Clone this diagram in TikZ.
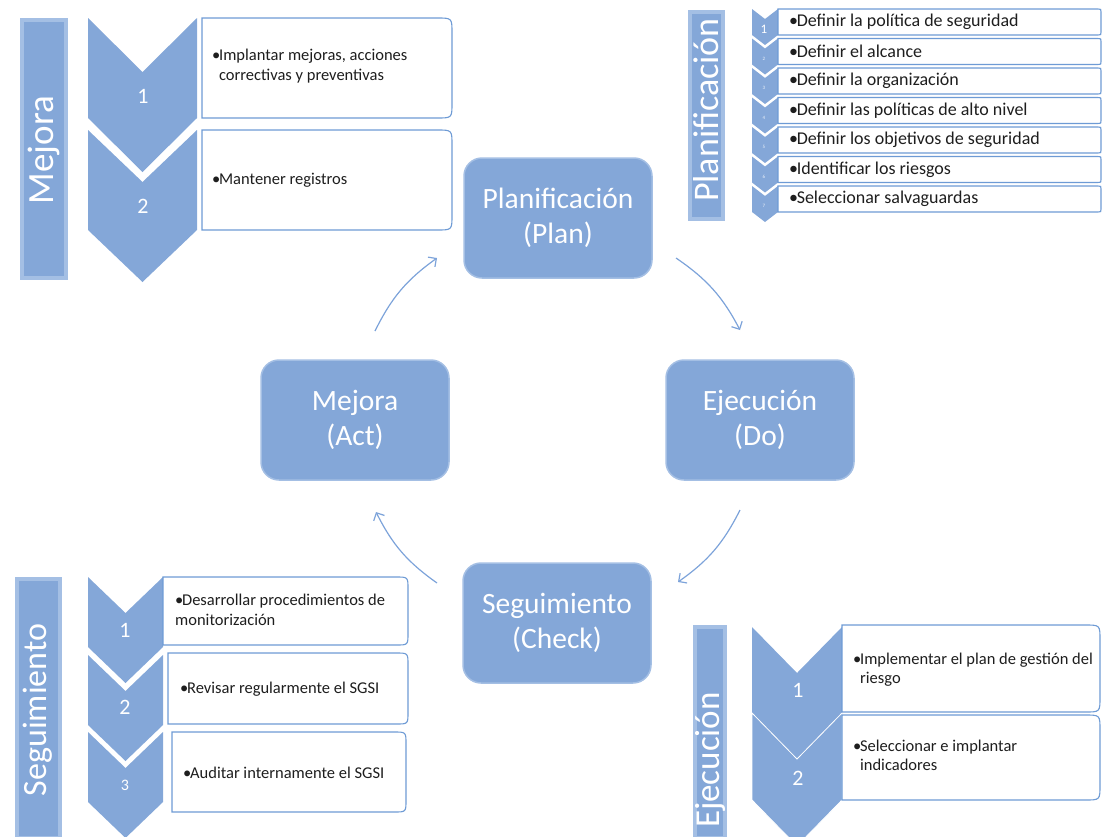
\documentclass[tikz,border=0pt]{standalone}
\usepackage{fontspec}
\setmainfont{Carlito}
\usetikzlibrary{arrows.meta}
\definecolor{cblue}{HTML}{84A7D8}
\definecolor{cbluelight}{HTML}{A4BFE4}
\definecolor{cborder}{HTML}{6E9BD5}
\definecolor{carrow}{HTML}{7DA3DA}
\definecolor{ctext}{HTML}{1E1E1E}
\newcommand\mychev[5]{%
  \fill[chevst] (#1,#2) -- ({#1+#3/2},{#2+#5}) -- ({#1+#3},#2) -- ({#1+#3},{#2+#4}) -- ({#1+#3/2},{#2+#4+#5}) -- (#1,{#2+#4}) -- cycle;}
\newcommand\mybox[5]{%
  \draw[boxst] (#1,#2) -- ({#3-#5},#2) .. controls (#3,#2) .. (#3,{#2+#5}) -- (#3,{#4-#5}) .. controls (#3,#4) .. ({#3-#5},#4) -- (#1,#4) -- cycle;}
\newcommand\mybar[4]{%
  \fill[cbluelight] (#1,#2) rectangle (#3,#4);
  \fill[cblue] ({#1+4},{#2+4}) rectangle ({#3-4},{#4-4});}
\newcommand\bul{\makebox[0.42em][l]{•}}
\newcommand\cont{\hspace*{0.42em}}
\begin{document}
\begin{tikzpicture}[x=1pt,y=-1pt,
  chevst/.style={fill=cblue},
  boxst/.style={draw=cborder,line width=1.1pt,fill=white},
  mainbox/.style={rectangle,rounded corners=18pt,fill=cblue,draw=cbluelight,line width=1.5pt,
    minimum width=188pt,minimum height=120pt,text=white,align=center,
    font=\fontsize{29.5}{35}\selectfont},
  bartext/.style={rotate=90,text=white},
  numtext/.style={text=white,font=\fontsize{22}{22}\selectfont},
  itemtext/.style={anchor=west,align=left,text=ctext,inner sep=0pt,font=\fontsize{16.5}{19.5}\selectfont},
  listtext/.style={anchor=west,align=left,text=ctext,inner sep=0pt,font=\fontsize{18}{18}\selectfont},
  cyc/.style={draw=carrow,line width=1.2pt,-{Straight Barb[length=6pt,width=12pt]}}]
\useasboundingbox (0,0) rectangle (1102,836);

% ---- central cycle ----
\node[mainbox] (plan) at (558,218) {Planificación\\(Plan)};
\node[mainbox] (act) at (355,420) {Mejora\\(Act)};
\node[mainbox] (do) at (760,420) {Ejecución\\(Do)};
\node[mainbox] (check) at (557,623) {Seguimiento\\(Check)};

\coordinate (a1s) at (676,258); \coordinate (a1e) at (740,330);
\coordinate (a2s) at (740,510); \coordinate (a2e) at (678,582);
\coordinate (a3s) at (437,583); \coordinate (a3e) at (376,512);
\coordinate (a4s) at (375,331); \coordinate (a4e) at (437,258);
\draw[cyc] (a1s) to[bend left=14] (a1e);
\draw[cyc] (a2s) to[bend left=14] (a2e);
\draw[cyc] (a3s) to[bend left=14] (a3e);
\draw[cyc] (a4s) to[bend left=14] (a4e);

% ---- Mejora panel ----
\mybar{20}{18}{68}{280}
\node[bartext,font=\fontsize{37}{37}\selectfont] (mejbar) at (44,150) {Mejora};
\mychev{88}{18}{109}{100}{54}
\mychev{88}{130}{109}{100}{52}
\node[numtext] (mn1) at (143,96) {1};
\node[numtext] (mn2) at (143,206) {2};
\mybox{202}{18}{452}{118}{15}
\mybox{202}{130}{452}{230}{15}
\node[itemtext] (mt1) at (212,66) {\bul Implantar mejoras, acciones\\\cont correctivas y preventivas};
\node[itemtext] (mt2) at (212,180) {\bul Mantener registros};

% ---- Planificación panel ----
\mybar{688}{10}{725}{221}
\node[bartext,font=\fontsize{36}{36}\selectfont] (planbar) at (706,110) {Planificación};
\foreach \i/\t in {1/Definir la política de seguridad,2/Definir el alcance,3/Definir la organización,4/Definir las políticas de alto nivel,5/Definir los objetivos de seguridad,6/Identificar los riesgos,7/Seleccionar salvaguardas}{
  \pgfmathsetmacro{\ty}{9+29.5*(\i-1)}
  \mychev{752}{\ty}{26}{26}{10}
  \mybox{778}{\ty}{1101}{\ty+26}{3}
  \node[listtext] (pl\i) at (789,\ty+13) {\bul\t};
}
\node[text=white,font=\fontsize{13}{13}\selectfont] (pn1) at (764,29) {1};
\foreach \i in {2,...,7}{
  \pgfmathsetmacro{\ny}{9+29.5*(\i-1)+20}
  \node[text=white!85!cblue,font=\fontsize{5}{5}\selectfont] (pn\i) at (764,\ny) {\i};
}

% ---- Seguimiento panel ----
\mybar{15}{577}{62}{840}
\node[bartext,font=\fontsize{34}{34}\selectfont] (segbar) at (38,710) {Seguimiento};
\mychev{88}{577}{75}{70}{36}
\mychev{88}{655}{75}{70}{36}
\mychev{88}{732}{75}{70}{36}
\node[numtext] (sn1) at (125,630) {1};
\node[numtext] (sn2) at (125,707) {2};
\node[numtext,font=\fontsize{16}{16}\selectfont] (sn3) at (125,785) {3};
\mybox{163}{577}{408}{645}{12}
\mybox{168}{653}{408}{724}{12}
\mybox{172}{732}{406}{812}{12}
\node[itemtext] (st1) at (175,610) {\bul Desarrollar procedimientos de\\monitorización};
\node[itemtext] (st2) at (180,689) {\bul Revisar regularmente el SGSI};
\node[itemtext] (st3) at (183,773) {\bul Auditar internamente el SGSI};

% ---- Ejecución panel ----
\mybar{693}{625}{727}{840}
\node[bartext,font=\fontsize{35}{35}\selectfont] (ejbar) at (710,760) {Ejecución};
\mychev{752}{627}{90}{86}{46}
\fill[chevst,draw=white,line width=0.8pt] (752,713) -- (797,759) -- (842,713) -- (842,800) -- (797,846) -- (752,800) -- cycle;
\node[numtext] (en1) at (798,690) {1};
\node[numtext] (en2) at (798,778) {2};
\mybox{842}{625}{1100}{712}{15}
\mybox{842}{715}{1100}{800}{15}
\node[itemtext] (et1) at (853,669.5) {\bul Implementar el plan de gestión del\\\cont riesgo};
\node[itemtext] (et2) at (853,755.5) {\bul Seleccionar e implantar\\\cont indicadores};
\end{tikzpicture}
\end{document}
